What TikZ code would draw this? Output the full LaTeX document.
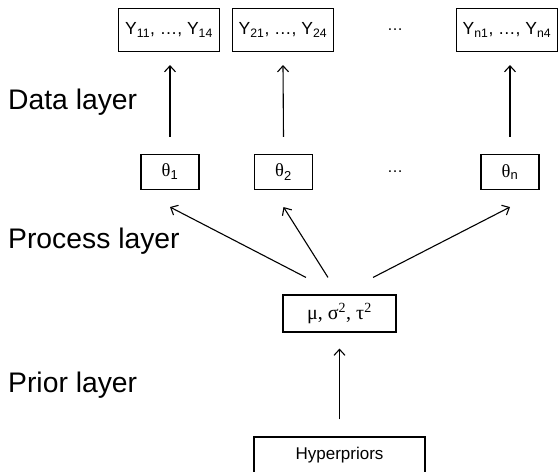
\documentclass[tikz,border=0pt]{standalone}
\usepackage{fontspec}
\setmainfont{Liberation Sans}
\newfontfamily\grk{Liberation Serif}
\usetikzlibrary{arrows.meta}
\begin{document}
\begin{tikzpicture}[x=1pt,y=-1pt,
  box/.style={draw,line width=1.1pt,inner sep=0pt,font=\fontsize{17}{19}\selectfont},
  ybox/.style={box,minimum width=101pt,minimum height=43pt,font=\fontsize{17.5}{19}\selectfont},
  tbox/.style={box,minimum width=58pt,minimum height=35pt,font=\fontsize{18.5}{20}\selectfont},
  arr/.style={line width=1.1pt,-{Straight Barb[length=6pt,width=11pt,line width=1.1pt]}},
  lay/.style={anchor=base west,inner sep=0pt,font=\fontsize{28.3}{32}\selectfont},
  dots/.style={inner sep=0pt,font=\fontsize{16}{18}\selectfont}]
\useasboundingbox (0,0) rectangle (558,472);
\clip (0,0) rectangle (558,472);
% data row
\node[ybox] (y1) at (169,30) {Y\textsubscript{11}, \dots, Y\textsubscript{14}};
\node[ybox] (y2) at (283,30) {Y\textsubscript{21}, \dots, Y\textsubscript{24}};
\node[dots] (d1) at (395,30) {\dots};
\node[ybox] (yn) at (507,30) {Y\textsubscript{n1}, \dots, Y\textsubscript{n4}};
% process row
\node[tbox] (t1) at (170,172) {{\grk θ}\textsubscript{1}};
\node[tbox] (t2) at (283.5,172) {{\grk θ}\textsubscript{2}};
\node[dots] (d2) at (395,172) {\dots};
\node[tbox] (tn) at (510,172) {{\grk θ}\textsubscript{n}};
% prior row
\node[box,minimum width=113pt,minimum height=37pt,font=\fontsize{20}{22}\selectfont] (mu) at (339.5,313.5) {\grk μ, σ\textsuperscript{2}, τ\textsuperscript{2}};
\node[box,minimum width=171pt,minimum height=36pt] (hyp) at (339.5,455) {Hyperpriors};
% layer labels
\node[lay] (l1) at (8,109) {Data layer};
\node[lay] (l2) at (8,248) {Process layer};
\node[lay] (l3) at (8,392) {Prior layer};
% arrows
\draw[arr] ([yshift=17]t1.north) -- ([xshift=1,yshift=-13]y1.south);
\draw[arr] ([yshift=17]t2.north) -- ([yshift=-13]y2.south);
\draw[arr] ([yshift=17]tn.north) -- ([xshift=3,yshift=-13]yn.south);
\draw[arr] ([xshift=-33.5,yshift=17]mu.north) -- ([yshift=-17]t1.south);
\draw[arr] ([xshift=-11.5,yshift=17]mu.north) -- ([yshift=-17]t2.south);
\draw[arr] ([xshift=33.5,yshift=17]mu.north) -- ([yshift=-17]tn.south);
\draw[arr] ([yshift=17]hyp.north) -- ([yshift=-16]mu.south);
\end{tikzpicture}
\end{document}
